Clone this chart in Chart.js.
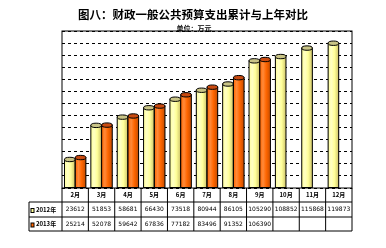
<!DOCTYPE html>
<html>
<head>
<meta charset="utf-8">
<script src="https://cdn.jsdelivr.net/npm/chart.js@4/dist/chart.umd.min.js"></script>
<style>
  html, body { margin: 0; padding: 0; background: #fff; }
  #wrap { width: 386px; height: 248px; }
</style>
</head>
<body>
<div id="wrap"><canvas id="myChart" width="386" height="248"></canvas></div>
<script>
// data, 万元
const months = ["2月", "3月", "4月", "5月", "6月", "7月", "8月", "9月", "10月", "11月", "12月"];
const seriesNames = ["2012年", "2013年"];
const values2012 = [23612, 51853, 58681, 66430, 73518, 80944, 86105, 105290, 108852, 115868, 119873];
const values2013 = [25214, 52078, 59642, 67836, 77182, 83496, 91352, 106390, null, null, null];
const yTicks = [0, 10000, 20000, 30000, 40000, 50000, 60000, 70000, 80000, 90000, 100000, 110000, 120000, 130000];

const titleText = "图八：财政一般公共预算支出累计与上年对比";
const unitText = "单位：万元";

const fills = [
  { light: "#ffffc4", mid: "#ffff99", dark: "#cfc46a", cap: "#c9c486" },
  { light: "#ff8a3a", mid: "#ff6600", dark: "#c44c00", cap: "#c84a10" },
];

const cylinderPlugin = {
  id: "cylinder",
  afterDatasetsDraw(chart) {
    const ctx = chart.ctx;
    chart.data.datasets.forEach((ds, i) => {
      const meta = chart.getDatasetMeta(i);
      meta.data.forEach((bar, j) => {
        if (ds.data[j] == null) return;
        const w = bar.width;
        const left = bar.x - w / 2;
        const g = ctx.createLinearGradient(left, 0, left + w, 0);
        g.addColorStop(0, fills[i].mid);
        g.addColorStop(0.3, fills[i].light);
        g.addColorStop(0.6, fills[i].mid);
        g.addColorStop(1, fills[i].dark);
        ctx.save();
        ctx.fillStyle = g;
        ctx.fillRect(left, bar.y, w, bar.base - bar.y);
        ctx.strokeStyle = "#000";
        ctx.lineWidth = 1;
        ctx.strokeRect(left, bar.y, w, bar.base - bar.y);
        ctx.beginPath();
        ctx.ellipse(bar.x, bar.y, w / 2, 2.2, 0, 0, 2 * Math.PI);
        ctx.fillStyle = fills[i].cap;
        ctx.fill();
        ctx.stroke();
        ctx.restore();
      });
    });
  },
  afterDraw(chart) {
    const ctx = chart.ctx;
    const a = chart.chartArea;
    const colW = (a.right - a.left) / months.length;
    ctx.save();
    ctx.strokeStyle = "#000";
    ctx.lineWidth = 1;
    // plot frame
    ctx.strokeRect(a.left, a.top, a.right - a.left, a.bottom - a.top);

    // title
    ctx.fillStyle = "#000";
    ctx.textAlign = "center";
    ctx.textBaseline = "middle";
    ctx.font = "bold 11.5px 'Noto Sans CJK SC'";
    ctx.fillText(titleText, 193, 15);
    ctx.font = "bold 7px 'Noto Sans CJK SC'";
    ctx.fillText(unitText, 194, 28);

    // data table
    const r0 = a.bottom, r1 = r0 + 14, r2 = r1 + 15, r3 = r2 + 14;
    const tl = 29;
    ctx.beginPath();
    [r1, r2, r3].forEach((y) => { ctx.moveTo(tl, y); ctx.lineTo(a.right, y); });
    ctx.moveTo(tl, r1); ctx.lineTo(tl, r3);
    for (let k = 0; k <= months.length; k++) {
      const x = a.left + k * colW;
      ctx.moveTo(x, r0); ctx.lineTo(x, r3);
    }
    ctx.stroke();

    ctx.font = "bold 6px 'Noto Sans CJK SC'";
    months.forEach((m, k) => {
      const cx = a.left + (k + 0.5) * colW;
      ctx.fillText(m, cx, (r0 + r1) / 2);
    });
    ctx.font = "6px 'DejaVu Sans'";
    [values2012, values2013].forEach((vals, i) => {
      const y = i === 0 ? (r1 + r2) / 2 : (r2 + r3) / 2;
      vals.forEach((v, k) => {
        if (v == null) return;
        ctx.fillText(String(v), a.left + (k + 0.5) * colW, y);
      });
      // legend key
      ctx.fillStyle = fills[i].mid;
      ctx.fillRect(31, y - 1, 3, 4);
      ctx.strokeRect(31, y - 1, 3, 4);
      ctx.fillStyle = "#000";
      ctx.textAlign = "left";
      ctx.font = "bold 6px 'Noto Sans CJK SC'";
      ctx.fillText(seriesNames[i], 36, y);
      ctx.textAlign = "center";
      ctx.font = "6px 'DejaVu Sans'";
    });
    ctx.restore();
  },
};

const ctx = document.getElementById("myChart").getContext("2d");
const myChart = new Chart(ctx, {
  type: "bar",
  data: {
    labels: months,
    datasets: [
      { label: seriesNames[0], data: values2012, backgroundColor: fills[0].mid, borderColor: "#000", borderWidth: 1 },
      { label: seriesNames[1], data: values2013, backgroundColor: fills[1].mid, borderColor: "#000", borderWidth: 1 },
    ],
  },
  options: {
    responsive: false,
    animation: false,
    layout: { padding: { left: 62, right: 34, top: 31, bottom: 52 } },
    datasets: { bar: { categoryPercentage: 0.82, barPercentage: 0.98 } },
    plugins: { legend: { display: false }, title: { display: false }, tooltip: { enabled: false } },
    scales: {
      x: {
        ticks: { display: false },
        grid: { display: false },
        border: { display: false },
      },
      y: {
        min: yTicks[0],
        max: yTicks[yTicks.length - 1],
        afterBuildTicks: (axis) => { axis.ticks = yTicks.map((v) => ({ value: v })); },
        ticks: { display: false },
        grid: { color: "#000", lineWidth: 1, drawTicks: false },
        border: { display: false, dash: [3, 3] },
      },
    },
  },
  plugins: [cylinderPlugin],
});
</script>
</body>
</html>
